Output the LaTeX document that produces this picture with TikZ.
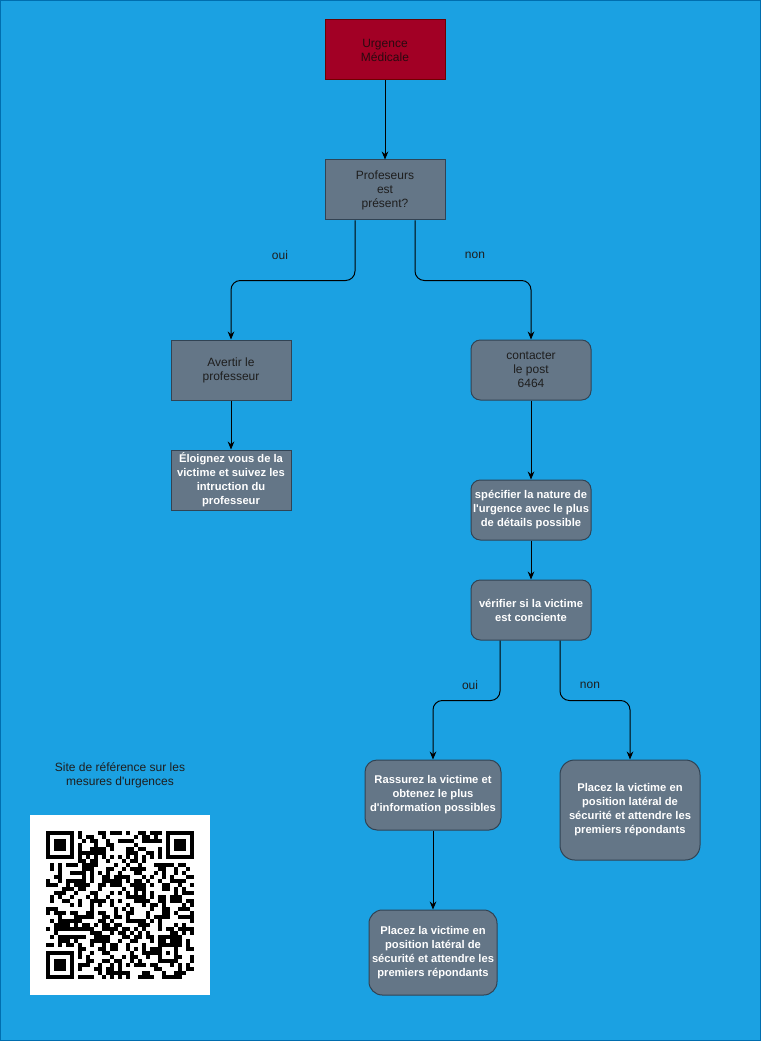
\documentclass[tikz,border=0pt]{standalone}
\usepackage{fontspec}
\setmainfont{Liberation Sans}[Ligatures=TeXOff]
\usetikzlibrary{arrows.meta,calc}
\definecolor{bgblue}{HTML}{1BA1E2}
\definecolor{bgborder}{HTML}{006EAF}
\definecolor{slate}{HTML}{647687}
\definecolor{slatestroke}{HTML}{314354}
\definecolor{urgred}{HTML}{A20025}
\definecolor{urgstroke}{HTML}{6F0000}
\definecolor{darktext}{HTML}{1E1E1E}
\definecolor{urgtext}{HTML}{2A0A10}
\tikzset{
  boxsq/.style={draw=slatestroke, fill=slate, line width=0.75pt, minimum width=90pt, minimum height=45pt,
    align=center, inner sep=1pt, text=darktext, font=\fontsize{9}{10.5}\selectfont},
  boxrd/.style={boxsq, rounded corners=7pt},
  whitebold/.style={text=white, font=\bfseries\fontsize{8.4}{10.5}\selectfont},
  conn/.style={draw=black, line width=0.75pt, -{Stealth[length=6pt,width=5pt]}, rounded corners=7pt},
  lbl/.style={text=darktext, font=\fontsize{9}{10.5}\selectfont, inner sep=1pt, align=center}
}
\begin{document}
\begin{tikzpicture}[x=0.75pt,y=-0.75pt]
\fill[bgblue] (0,0) rectangle (761,1041);
\draw[bgborder, line width=0.75pt] (0.5,0.5) rectangle (760.5,1040.5);
\useasboundingbox (0,0) rectangle (761,1041);

% nodes
\node[boxsq, fill=urgred, draw=urgstroke, text=urgtext] (urg) at (385,50) {Urgence\\Médicale};
\node[boxsq] (prof) at (385,190) {Profeseurs\\est\\présent?};
\node[boxsq] (avert) at (231,370) {Avertir le\\professeur};
\node[boxsq, whitebold] (eloign) at (231,480) {Éloignez vous de la\\victime et suivez les\\intruction du\\professeur};
\node[boxrd] (contact) at (531,370) {contacter\\le post\\6464};
\node[boxrd, whitebold] (spec) at (531,510) {spécifier la nature de\\l'urgence avec le plus\\de détails possible};
\node[boxrd, whitebold] (verif) at (531,610) {vérifier si la victime\\est conciente};
\node[boxrd, whitebold, minimum width=102pt, minimum height=52.5pt, rounded corners=9pt] (rass) at (433,795) {Rassurez la victime et\\obtenez le plus\\d'information possibles};
\node[boxrd, whitebold, minimum width=96pt, minimum height=63.75pt, rounded corners=10pt] (placezb) at (433,952.5) {Placez la victime en\\position latéral de\\sécurité et attendre les\\premiers répondants};
\node[boxrd, whitebold, minimum width=105pt, minimum height=75pt, rounded corners=11pt] (placezr) at (630,810) {Placez la victime en\\position latéral de\\sécurité et attendre les\\premiers répondants};

% labels
\node[lbl] (oui1) at (280,255) {oui};
\node[lbl] (non1) at (475,255) {non};
\node[lbl] (oui2) at (470,685) {oui};
\node[lbl] (non2) at (590,685) {non};
\node[lbl] (site) at (120,775) {Site de référence sur les\\mesures d'urgences};

% connectors
\draw[conn] (urg) -- (prof);
\draw[conn] ($(prof.south)+(-30,0)$) -- ++(0,60) -| (avert.north);
\draw[conn] ($(prof.south)+(30,0)$) -- ++(0,60) -| (contact.north);
\draw[conn] (avert) -- (eloign);
\draw[conn] (contact) -- (spec);
\draw[conn] (spec) -- (verif);
\draw[conn] ($(verif.south)+(-31,0)$) -- ++(0,60) -| (rass.north);
\draw[conn] ($(verif.south)+(29,0)$) -- ++(0,60) -| (placezr.north);
\draw[conn] (rass) -- (placezb);

% QR code
\node[fill=white, minimum width=135pt, minimum height=135pt, inner sep=0pt] (qr) at (120,905) {};
\pgfmathsetseed{4711}
\foreach \j in {0,...,36}{
  \foreach \i in {0,...,36}{
    \pgfmathtruncatemacro\q{((\i<8 && \j<8) || (\i>28 && \j<8) || (\i<8 && \j>28) || (\i>27 && \i<33 && \j>27 && \j<33)) ? 0 : ((\j==6) ? (mod(\i+1,2)) : ((\i==6) ? (mod(\j+1,2)) : (rnd<0.5 ? 1 : 0)))}
    \ifnum\q=1 \fill[black] (46+4*\i,831+4*\j) rectangle ++(4.15,4.15);\fi
  }
}
\foreach \ox/\oy in {46/831, 166/831, 46/951}{
  \fill[black] (\ox,\oy) rectangle ++(28,28);
  \fill[white] (\ox+4,\oy+4) rectangle ++(20,20);
  \fill[black] (\ox+8,\oy+8) rectangle ++(12,12);
}
\fill[black] (46+112,831+112) rectangle ++(20,20);
\fill[white] (46+116,831+116) rectangle ++(12,12);
\fill[black] (46+120,831+120) rectangle ++(4,4);
\end{tikzpicture}
\end{document}
